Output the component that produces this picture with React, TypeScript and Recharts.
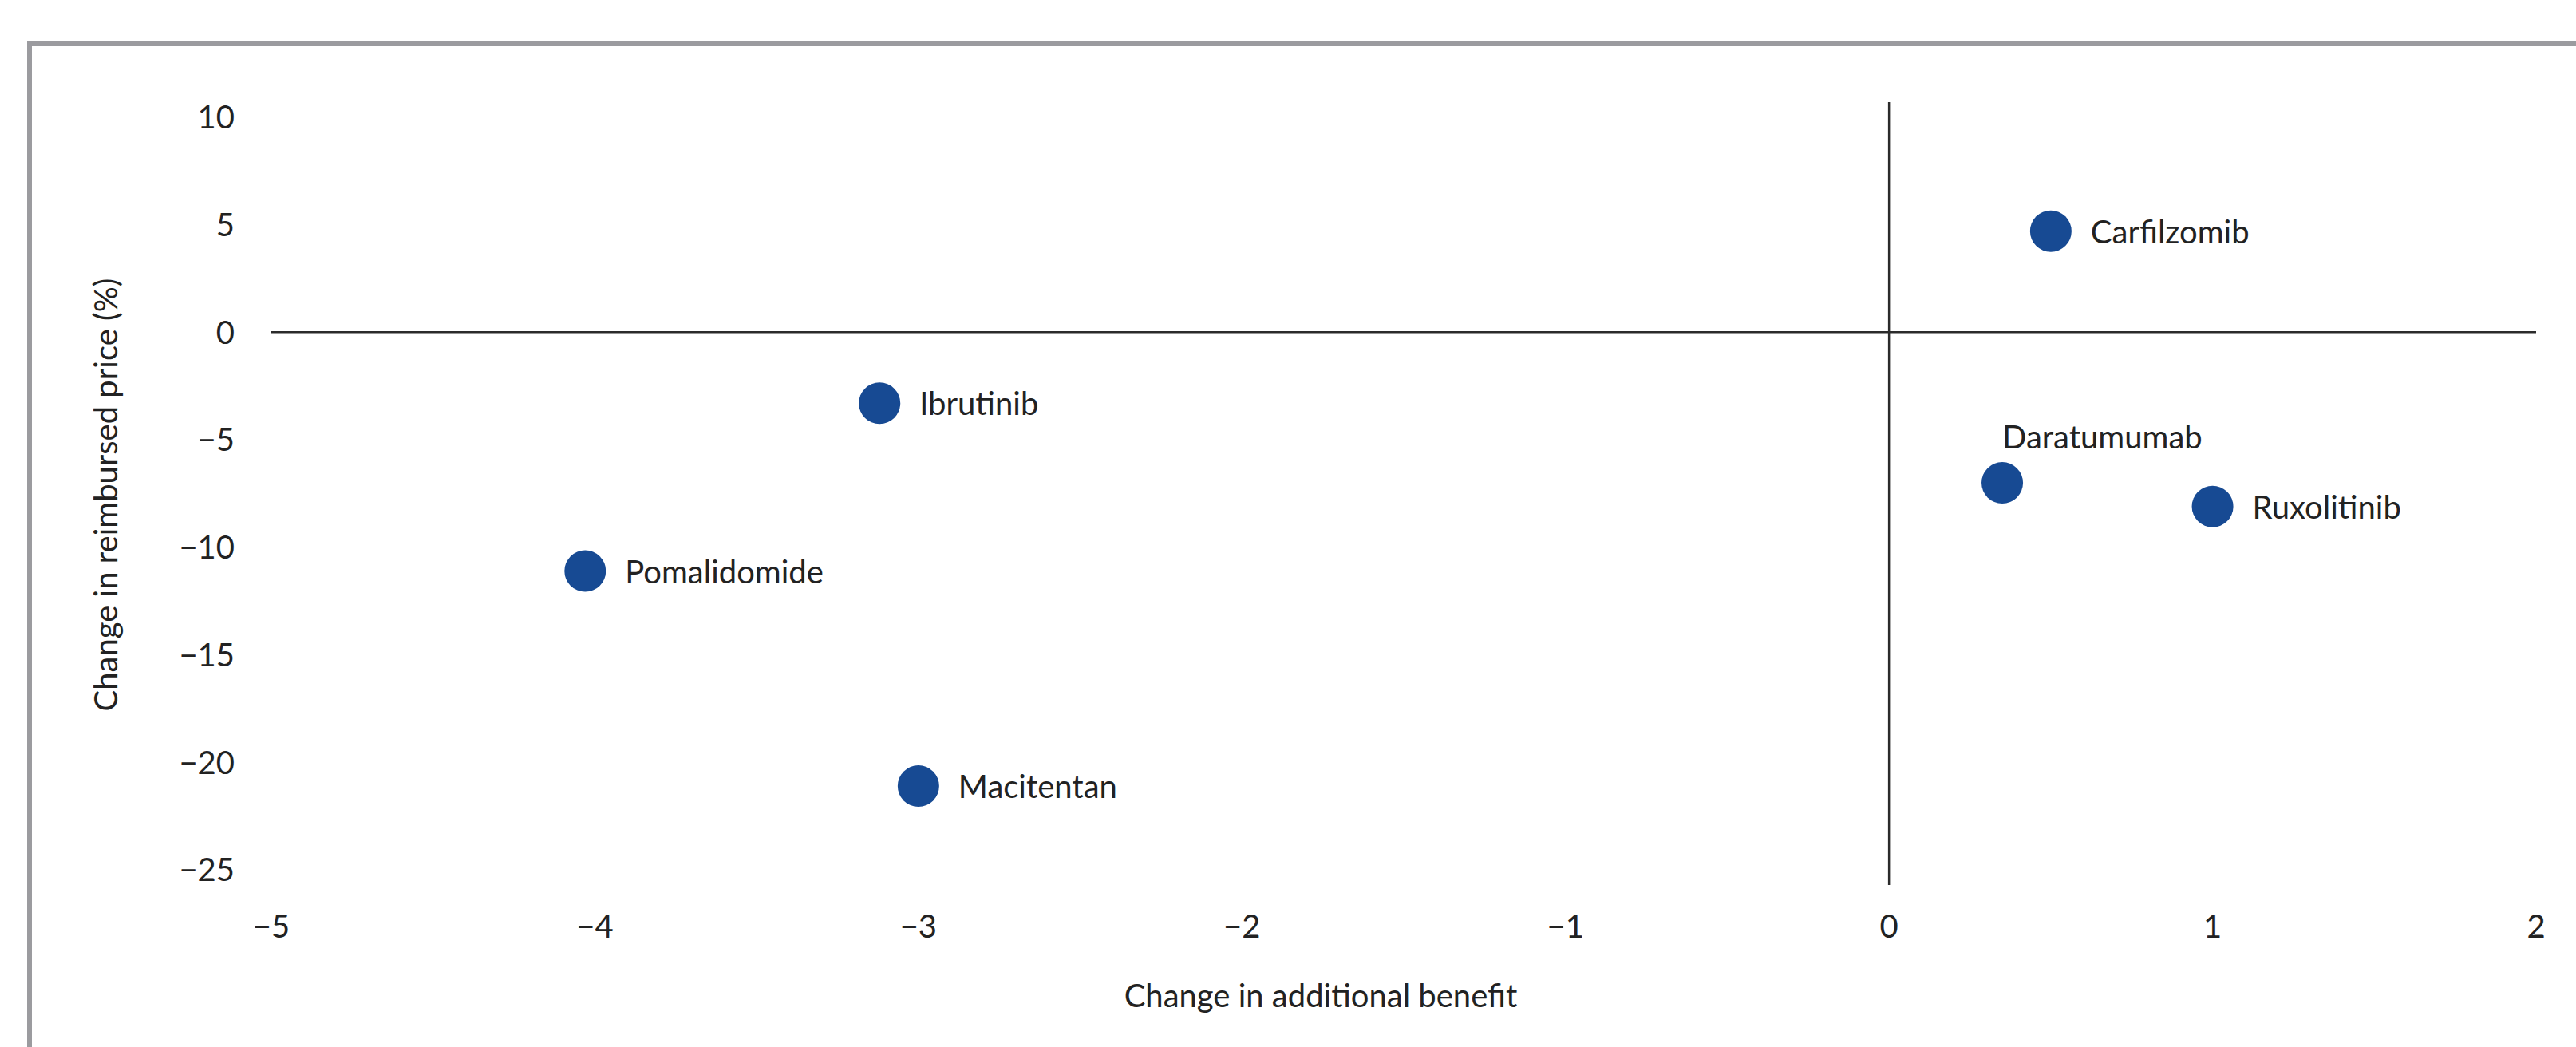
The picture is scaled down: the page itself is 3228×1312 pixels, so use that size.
import React from "react";
import {
  ScatterChart,
  Scatter,
  XAxis,
  YAxis,
  ReferenceLine,
} from "recharts";

// drug names and their (benefit change, price change) readings
const drugs = ["Carfilzomib", "Daratumumab", "Ruxolitinib", "Ibrutinib", "Pomalidomide", "Macitentan"];
const benefitChange = [0.5, 0.35, 1.0, -3.12, -4.03, -3.0];
const priceChange = [4.7, -7.0, -8.1, -3.3, -11.1, -21.1];

const xTicks = [-5, -4, -3, -2, -1, 0, 1, 2];
const yTicks = [-25, -20, -15, -10, -5, 0, 5, 10];

// labels drawn above the dot instead of to the right
const labelsAbove = ["Daratumumab"];

const FONT = "Lato, 'Noto Sans', sans-serif";
const TEXT = "#222222";
const DOT = "#174a93";

const minus = (v: number) => String(v).replace("-", "\u2212");

const data = drugs.map((name, i) => ({
  name,
  x: benefitChange[i],
  y: priceChange[i],
}));

const DotShape = (props: any) => {
  const { cx, cy, payload } = props;
  const above = labelsAbove.includes(payload.name);
  return (
    <g>
      <circle cx={cx} cy={cy} r={26} fill={DOT} />
      <text
        x={above ? cx : cx + 50}
        y={above ? cy - 58 : cy}
        dominantBaseline="central"
        textAnchor="start"
        fontSize={40}
        fontFamily={FONT}
        fill={TEXT}
      >
        {payload.name}
      </text>
    </g>
  );
};

export default function App() {
  const tickStyle = { fontSize: 40, fontFamily: FONT, fill: TEXT };
  return (
    <div style={{ position: "absolute", left: 0, top: 0, width: 3228, height: 1312, background: "#fff", overflow: "hidden" }}>
      <div
        style={{
          position: "absolute",
          left: 34,
          top: 52,
          width: 3300,
          height: 1400,
          borderTop: "6px solid #9b9b9f",
          borderLeft: "6px solid #9b9b9f",
        }}
      />
      <div style={{ position: "absolute", left: 0, top: 0 }}>
        <ScatterChart
          width={3228}
          height={1312}
          margin={{ top: 128, right: 50, left: 220, bottom: 103 }}
        >
          <XAxis
            type="number"
            dataKey="x"
            domain={[-5, 2]}
            ticks={xTicks}
            tickFormatter={minus}
            axisLine={false}
            tickLine={false}
            tickSize={0}
            tickMargin={38}
            height={100}
            tick={tickStyle}
            interval={0}
          />
          <YAxis
            type="number"
            dataKey="y"
            domain={[-25.7, 10.7]}
            ticks={yTicks}
            tickFormatter={minus}
            axisLine={false}
            tickLine={false}
            tickSize={0}
            tickMargin={46}
            width={120}
            tick={tickStyle}
            interval={0}
          />
          <ReferenceLine y={0} stroke="#2b2b2b" strokeWidth={2.5} />
          <ReferenceLine x={0} stroke="#2b2b2b" strokeWidth={2.5} />
          <Scatter data={data} shape={DotShape} isAnimationActive={false} />
        </ScatterChart>
      </div>
      <div
        style={{
          position: "absolute",
          left: 1655,
          top: 1247,
          transform: "translate(-50%, -50%)",
          fontSize: 40,
          fontFamily: FONT,
          color: TEXT,
          whiteSpace: "nowrap",
        }}
      >
        Change in additional benefit
      </div>
      <div
        style={{
          position: "absolute",
          left: 132,
          top: 620,
          transform: "translate(-50%, -50%) rotate(-90deg)",
          fontSize: 40,
          fontFamily: FONT,
          color: TEXT,
          whiteSpace: "nowrap",
        }}
      >
        Change in reimbursed price (%)
      </div>
    </div>
  );
}
